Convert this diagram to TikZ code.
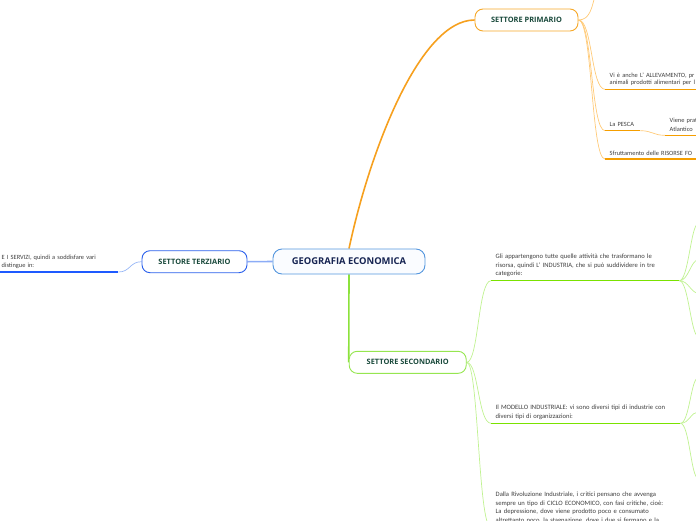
\documentclass[tikz,border=0pt]{standalone}
\usepackage{fontspec}
\setmainfont{Carlito}
\newfontfamily\headfont{Open Sans}
\usetikzlibrary{
  positioning,
  backgrounds,
  calc
}
\definecolor{rootborder}{RGB}{84, 150, 222}
\definecolor{rootfill}{RGB}{250, 252, 255}
\definecolor{roottext}{RGB}{22, 36, 82}
\definecolor{sectortext}{RGB}{26, 74, 60}
\definecolor{leafcolor}{RGB}{62, 62, 62}
\definecolor{primborder}{RGB}{246, 168, 40}
\definecolor{orangemain}{RGB}{246, 160, 30}
\definecolor{orangethin}{RGB}{255, 202, 120}
\definecolor{orangeline}{RGB}{245, 158, 0}
\definecolor{secborder}{RGB}{150, 230, 80}
\definecolor{greenmain}{RGB}{140, 226, 60}
\definecolor{greenthin}{RGB}{192, 242, 145}
\definecolor{greenline}{RGB}{122, 226, 0}
\definecolor{terzborder}{RGB}{42, 96, 236}
\definecolor{bluemain}{RGB}{140, 172, 246}
\definecolor{bluethin}{RGB}{150, 182, 246}
\definecolor{blueline}{RGB}{30, 90, 255}
\tikzset{
rootblock/.style={
  draw=rootborder,
  line width=0.9pt,
  rounded corners=9pt,
  fill=rootfill,
  minimum height=25pt,
  minimum width=152pt,
  font=\headfont\bfseries\fontsize{9.4}{11}\selectfont,
  text=roottext
},
sectorblock/.style={
  line width=0.9pt,
  rounded corners=8pt,
  fill=white,
  minimum height=22pt,
  font=\headfont\bfseries\fontsize{7.4}{9}\selectfont,
  text=sectortext
},
leafnode/.style={
  anchor=south west,
  align=left,
  inner xsep=4.5pt,
  inner ysep=3.5pt,
  text width=#1,
  font=\fontsize{6.6}{8.7}\selectfont,
  text=leafcolor
},
leaftight/.style={
  font=\fontsize{6.4}{7.3}\selectfont
},
mainline/.style={
  line width=1.6pt
},
thinline/.style={
  line width=0.7pt
},
underline/.style={
  line width=1.3pt
}
}
\begin{document}
\begin{tikzpicture}[x=1pt,y=-1pt]
\useasboundingbox (0,0) rectangle (696,520);
\node[rootblock] (geo) at (349,261.5) {GEOGRAFIA ECONOMICA};
\node[sectorblock, draw=primborder, minimum width=103pt] (primario) at (526.5,20) {SETTORE PRIMARIO};
\node[sectorblock, draw=terzborder, minimum width=105pt] (terziario) at (194.5,261.7) {SETTORE TERZIARIO};
\node[sectorblock, draw=secborder, minimum width=117pt] (secondario) at (407.7,362.3) {SETTORE SECONDARIO};

\node[leafnode=112pt, leaftight] (servizi) at (-3,272) {E I SERVIZI, quindi a soddisfare vari\\distingue in:};

\node[leafnode=150pt, leaftight] (allev) at (605,89.3) {Vi è anche L' ALLEVAMENTO, pr\\animali prodotti alimentari per l};
\node[leafnode=26pt, leaftight] (pesca) at (605,130.7) {La PESCA};
\node[leafnode=60pt, font=\fontsize{6.4}{9}\selectfont] (viene) at (665,135.3) {Viene prat\\Atlantico};
\node[leafnode=150pt, leaftight] (risorse) at (605,159) {Sfruttamento delle RISORSE FO};
\coordinate (primup) at (595,-4);

\node[leafnode=179pt] (industria) at (491,280.7) {Gli appartengono tutte quelle attività che trasformano le\\risorsa, quindi L' INDUSTRIA, che si può suddividere in tre\\categorie:};
\node[leafnode=180pt] (modello) at (491,423.3) {Il MODELLO INDUSTRIALE: vi sono diversi tipi di industrie con\\diversi tipi di organizzazioni:};
\node[leafnode=180pt] (ciclo) at (491,527.5) {Dalla Rivoluzione Industriale, i critici pensano che avvenga\\sempre un tipo di CICLO ECONOMICO, con fasi critiche, cioè:\\La depressione, dove viene prodotto poco e consumato\\altrettanto poco, la stagnazione, dove i due si fermano e la};

\coordinate (ind1) at (698,224);
\coordinate (ind2) at (698,260);
\coordinate (ind3) at (698,293);
\coordinate (ind4) at (698,336);
\coordinate (mod1) at (698,378);
\coordinate (mod2) at (698,412);
\coordinate (mod3) at (698,478);

\draw[underline, draw=blueline] (servizi.south west) -- (servizi.south east);
\draw[underline, draw=orangeline] (allev.south west) -- (allev.south east);
\draw[underline, draw=orangeline] (pesca.south west) -- (pesca.south east);
\draw[underline, draw=orangeline] (viene.south west) -- (viene.south east);
\draw[underline, draw=orangeline] (risorse.south west) -- (risorse.south east);
\draw[underline, draw=greenline] (industria.south west) -- (industria.south east);
\draw[underline, draw=greenline] (modello.south west) -- (modello.south east);
\draw[underline, draw=greenline] (ciclo.south west) -- (ciclo.south east);

\begin{scope}[on background layer]
\draw[mainline, draw=orangemain] (geo.north) .. controls (370,150) and (420,20) .. (primario.west);
\draw[mainline, draw=bluemain] (geo.west) -- (terziario.east);
\draw[mainline, draw=greenmain] (geo.south) -- (secondario.west);

\draw[thinline, draw=bluethin] (servizi.south east) .. controls +(12,0) and +(-12,0) .. (terziario.west);

\draw[thinline, draw=orangethin] (primario.east) .. controls +(12,0) and +(-3,10) .. (primup);
\draw[thinline, draw=orangethin] (primario.east) .. controls +(14,0) and +(-14,0) .. (allev.south west);
\draw[thinline, draw=orangethin] (primario.east) .. controls +(14,0) and +(-14,0) .. (pesca.south west);
\draw[thinline, draw=orangethin] (primario.east) .. controls +(14,0) and +(-14,0) .. (risorse.south west);
\draw[thinline, draw=orangethin] (pesca.south east) .. controls +(12,0) and +(-12,0) .. (viene.south west);

\draw[thinline, draw=greenthin] (secondario.east) .. controls +(12,0) and +(-13,0) .. (industria.south west);
\draw[thinline, draw=greenthin] (secondario.east) .. controls +(12,0) and +(-13,0) .. (modello.south west);
\draw[thinline, draw=greenthin] (secondario.east) .. controls +(12,0) and +(-13,0) .. (ciclo.south west);

\draw[thinline, draw=greenthin] (industria.south east) .. controls +(9,0) and +(-7,0) .. (ind1);
\draw[thinline, draw=greenthin] (industria.south east) .. controls +(9,0) and +(-7,0) .. (ind2);
\draw[thinline, draw=greenthin] (industria.south east) .. controls +(9,0) and +(-7,0) .. (ind3);
\draw[thinline, draw=greenthin] (industria.south east) .. controls +(9,0) and +(-7,0) .. (ind4);
\draw[thinline, draw=greenthin] (modello.south east) .. controls +(9,0) and +(-7,0) .. (mod1);
\draw[thinline, draw=greenthin] (modello.south east) .. controls +(9,0) and +(-7,0) .. (mod2);
\draw[thinline, draw=greenthin] (modello.south east) .. controls +(9,0) and +(-7,0) .. (mod3);
\end{scope}
\end{tikzpicture}
\end{document}
